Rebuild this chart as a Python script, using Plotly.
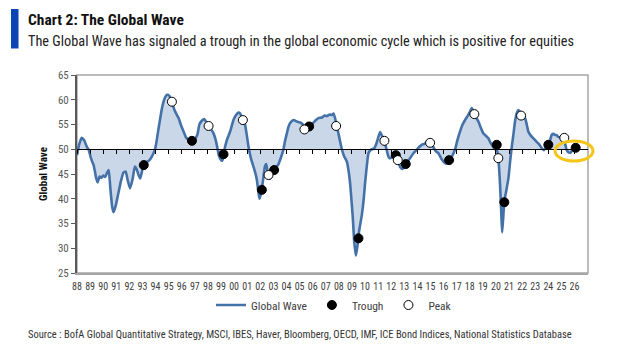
import plotly.graph_objects as go

# ---- data ----
wave_year = [
    1988.00, 1988.15, 1988.35, 1988.55, 1988.75, 1988.89, 1989.10, 1989.27, 1989.47, 1989.58,
    1989.72, 1989.85, 1990.00, 1990.15, 1990.30, 1990.42, 1990.55, 1990.68, 1990.79, 1990.95,
    1991.15, 1991.35, 1991.55, 1991.72, 1991.85, 1992.05, 1992.25, 1992.42, 1992.55, 1992.70,
    1992.83, 1993.00, 1993.10, 1993.30, 1993.50, 1993.72, 1993.98, 1994.23, 1994.49, 1994.70,
    1994.87, 1995.05, 1995.25, 1995.50, 1995.76, 1995.95, 1996.14, 1996.35, 1996.52, 1996.70,
    1996.85, 1997.05, 1997.20, 1997.35, 1997.55, 1997.72, 1997.90, 1998.05, 1998.25, 1998.43,
    1998.60, 1998.72, 1998.85, 1999.00, 1999.10, 1999.25, 1999.45, 1999.70, 1999.95, 2000.15,
    2000.33, 2000.47, 2000.60, 2000.80, 2001.00, 2001.10, 2001.30, 2001.48, 2001.62, 2001.74,
    2001.85, 2001.94, 2002.05, 2002.20, 2002.35, 2002.45, 2002.55, 2002.72, 2002.85, 2003.00,
    2003.20, 2003.39, 2003.60, 2003.77, 2003.90, 2004.03, 2004.15, 2004.28, 2004.54, 2004.80,
    2005.05, 2005.25, 2005.40, 2005.55, 2005.73, 2005.90, 2006.06, 2006.25, 2006.44, 2006.70,
    2006.90, 2007.08, 2007.30, 2007.47, 2007.59, 2007.72, 2007.85, 2007.97, 2008.10, 2008.23,
    2008.40, 2008.61, 2008.75, 2008.86, 2008.97, 2009.07, 2009.17, 2009.30, 2009.42, 2009.55,
    2009.76, 2009.90, 2010.00, 2010.15, 2010.26, 2010.40, 2010.52, 2010.70, 2010.85, 2011.00,
    2011.15, 2011.30, 2011.48, 2011.62, 2011.75, 2011.86, 2012.00, 2012.15, 2012.35, 2012.55,
    2012.68, 2012.85, 2013.00, 2013.15, 2013.30, 2013.44, 2013.70, 2013.95, 2014.15, 2014.33,
    2014.55, 2014.75, 2014.97, 2015.20, 2015.40, 2015.60, 2015.85, 2016.05, 2016.20, 2016.42,
    2016.65, 2016.88, 2017.05, 2017.26, 2017.45, 2017.64, 2017.85, 2018.02, 2018.15, 2018.30,
    2018.45, 2018.66, 2018.85, 2019.04, 2019.20, 2019.42, 2019.55, 2019.68, 2019.85, 2020.00,
    2020.10, 2020.20, 2020.31, 2020.40, 2020.47, 2020.55, 2020.64, 2020.78, 2020.95, 2021.10,
    2021.22, 2021.33, 2021.45, 2021.59, 2021.71, 2021.85, 2022.00, 2022.22, 2022.35, 2022.47,
    2022.65, 2022.86, 2023.00, 2023.11, 2023.30, 2023.50, 2023.65, 2023.80, 2023.95, 2024.10,
    2024.26, 2024.40, 2024.51, 2024.65, 2024.76, 2024.95, 2025.10, 2025.25, 2025.38, 2025.52,
    2025.66, 2025.85, 2026.00, 2026.08,
]
wave_value = [
    48.8, 50.8, 52.3, 51.8, 50.5, 49.9, 47.9, 46.8, 44.1, 43.3,
    44.5, 44.2, 44.7, 44.4, 45.3, 45.8, 42.0, 38.5, 37.3, 38.5,
    41.0, 43.5, 45.3, 45.5, 44.0, 42.1, 44.0, 46.5, 46.0, 44.8,
    44.1, 46.0, 46.9, 47.4, 47.7, 48.5, 50.2, 54.2, 58.3, 60.3,
    61.0, 60.8, 59.4, 57.6, 56.3, 54.8, 53.6, 52.3, 51.9, 51.4,
    51.8, 52.2, 53.0, 55.0, 55.8, 56.1, 55.4, 54.8, 54.0, 53.2,
    51.8, 50.3, 48.6, 47.8, 47.7, 49.8, 51.9, 53.6, 55.9, 56.9,
    57.4, 57.2, 56.3, 55.4, 52.3, 50.5, 48.0, 46.5, 45.2, 43.8,
    41.5, 40.0, 41.0, 43.5, 46.5, 47.0, 45.5, 44.0, 44.5, 45.5,
    46.3, 47.0, 48.5, 50.0, 51.8, 53.2, 54.5, 55.3, 55.9, 55.6,
    55.4, 55.0, 54.3, 54.5, 54.8, 55.0, 55.4, 55.9, 56.3, 56.4,
    56.8, 56.7, 57.0, 56.9, 57.2, 56.2, 54.5, 53.2, 51.5, 50.0,
    48.6, 47.5, 45.5, 43.1, 39.5, 36.0, 31.5, 28.5, 30.5, 33.5,
    36.8, 40.0, 43.1, 47.0, 49.2, 49.8, 50.0, 50.2, 51.0, 52.3,
    53.5, 52.7, 51.6, 50.2, 48.8, 48.2, 48.3, 48.5, 48.2, 47.3,
    46.4, 46.0, 46.5, 46.8, 47.6, 48.2, 49.2, 49.9, 50.5, 50.9,
    51.1, 51.6, 51.3, 50.5, 49.6, 49.2, 48.0, 47.3, 47.1, 47.6,
    48.6, 50.0, 51.8, 53.6, 55.0, 55.9, 56.8, 57.6, 58.3, 57.5,
    56.6, 55.6, 54.3, 53.2, 52.8, 52.2, 51.5, 50.9, 50.2, 49.9,
    49.6, 47.5, 43.0, 37.5, 33.2, 36.0, 39.5, 41.5, 44.1, 48.0,
    50.8, 52.9, 55.5, 57.3, 57.9, 57.5, 56.8, 56.3, 55.0, 53.6,
    52.8, 52.2, 51.8, 51.5, 51.0, 50.2, 49.8, 50.3, 50.6, 51.5,
    52.9, 53.1, 52.9, 52.8, 52.5, 52.4, 52.3, 51.5, 50.0, 49.4,
    49.3, 49.8, 50.2, 50.3,
]
trough_year = [1993.10, 1996.78, 1999.19, 2002.12, 2003.06, 2005.73, 2009.50,
               2012.35, 2013.11, 2016.42, 2020.06, 2020.64, 2024.00, 2026.09]
trough_value = [46.8, 51.7, 49.0, 41.8, 45.8, 54.6, 32.0,
                48.8, 47.0, 47.8, 50.9, 39.3, 50.9, 50.3]
peak_year = [1995.25, 1998.05, 2000.67, 2002.63, 2005.37, 2007.79, 2011.48,
             2012.50, 2014.97, 2018.35, 2020.18, 2021.92, 2025.22]
peak_value = [59.6, 54.7, 55.9, 44.8, 54.0, 54.7, 51.7,
              47.8, 51.3, 57.1, 48.2, 56.8, 52.3]
tick_years = list(range(1988, 2027))
tick_labels = [f"{y % 100:02d}" for y in tick_years]
baseline = 50

# ---- layout geometry ----
W, H = 626, 363
ML, MR, MT, MB = 77, 38, 75, 90
PW, PH = W - ML - MR, H - MT - MB


def px(xp):
    return (xp - ML) / PW


def py(yp):
    return (H - MB - yp) / PH


NARROW = "Liberation Sans Narrow, Arial Narrow, Roboto Condensed, sans-serif"
LINE_COL = "#4472a8"
FILL_COL = "#c9d7e8"

fig = go.Figure()
fig.add_trace(go.Scatter(x=wave_year, y=[baseline] * len(wave_year), mode="lines",
                         line=dict(width=0, color="rgba(0,0,0,0)"), showlegend=False,
                         hoverinfo="skip"))
fig.add_trace(go.Scatter(x=wave_year, y=wave_value, mode="lines", fill="tonexty",
                         fillcolor=FILL_COL, line=dict(width=0, color="rgba(0,0,0,0)"),
                         showlegend=False, hoverinfo="skip"))
fig.add_trace(go.Scatter(x=wave_year, y=wave_value, mode="lines", name="Global Wave",
                         line=dict(color=LINE_COL, width=2.6, shape="spline", smoothing=0.5)))
fig.add_trace(go.Scatter(x=trough_year, y=trough_value, mode="markers", name="Trough",
                         marker=dict(size=9, color="black", line=dict(color="black", width=1))))
fig.add_trace(go.Scatter(x=peak_year, y=peak_value, mode="markers", name="Peak",
                         marker=dict(size=9, color="white", line=dict(color="black", width=1))))
# dummy trace so the baseline axis (x2) is drawn
fig.add_trace(go.Scatter(x=[tick_years[0]], y=[baseline], xaxis="x2", mode="markers",
                         marker=dict(opacity=0), showlegend=False, hoverinfo="skip"))

xr = [1988, 2027.03]
fig.update_layout(
    width=W, height=H,
    margin=dict(l=ML, r=MR, t=MT, b=MB),
    paper_bgcolor="white", plot_bgcolor="white",
    font=dict(family=NARROW, size=11, color="#404040"),
    xaxis=dict(range=xr, tickvals=tick_years, ticktext=tick_labels, showgrid=False,
               zeroline=False, showline=True, linecolor="#a6a6a6", linewidth=1.5,
               ticks="outside", ticklen=3, tickcolor="rgba(0,0,0,0)", tickangle=0,
               tickfont=dict(family=NARROW, size=10, color="#404040")),
    xaxis2=dict(range=xr, overlaying="x", anchor="free", position=(baseline - 25) / 40,
                tickvals=tick_years, showticklabels=False, showgrid=False, zeroline=False,
                showline=True, linecolor="black", linewidth=1, ticks="outside",
                ticklen=4, tickcolor="black", tickwidth=1),
    yaxis=dict(range=[25, 65], dtick=5, showgrid=False, zeroline=False, showline=True,
               linecolor="#595959", linewidth=2, ticks="outside", ticklen=4,
               tickcolor="#595959",
               tickfont=dict(family=NARROW, size=11, color="#595959")),
    legend=dict(orientation="h", x=px(334), xanchor="center", y=py(305), yanchor="middle",
                font=dict(family=NARROW, size=11.5, color="#404040"), itemwidth=30,
                traceorder="normal", bgcolor="rgba(0,0,0,0)"),
    showlegend=True,
    shapes=[
        dict(type="rect", xref="x domain", yref="y domain", x0=0, x1=1, y0=0, y1=1,
             line=dict(color="#a6a6a6", width=1.5), layer="below"),
        dict(type="rect", xref="paper", yref="paper", x0=px(11), x1=px(18.5),
             y0=py(48.5), y1=py(9), fillcolor="#0b45b4", line=dict(width=0)),
        dict(type="circle", xref="paper", yref="paper", x0=px(555), x1=px(593),
             y0=py(161), y1=py(141), line=dict(color="#f5c518", width=3)),
    ],
    annotations=[
        dict(text="<b>Chart 2: The Global Wave</b>", xref="paper", yref="paper",
             x=px(26), y=py(20), xanchor="left", yanchor="middle", showarrow=False,
             font=dict(family=NARROW, size=15.5, color="#111111")),
        dict(text="The Global Wave has signaled a trough in the global economic cycle which is positive for equities",
             xref="paper", yref="paper", x=px(26), y=py(41), xanchor="left", yanchor="middle",
             showarrow=False, font=dict(family=NARROW, size=14.3, color="#222222")),
        dict(text="<b>Global Wave</b>", xref="paper", yref="paper", x=px(43), y=0.5,
             textangle=-90, showarrow=False, xanchor="center", yanchor="middle",
             font=dict(family=NARROW, size=11, color="#111111")),
        dict(text="Source : BofA Global Quantitative Strategy, MSCI, IBES, Haver, Bloomberg, OECD, IMF, ICE Bond Indices, National Statistics Database",
             xref="paper", yref="paper", x=px(26), y=py(334), xanchor="left", yanchor="middle",
             showarrow=False, font=dict(family=NARROW, size=10.5, color="#333333")),
    ],
)

fig.write_html("out.html", config={"displayModeBar": False},
               post_script="document.body.style.margin='0';document.body.style.padding='0';")
